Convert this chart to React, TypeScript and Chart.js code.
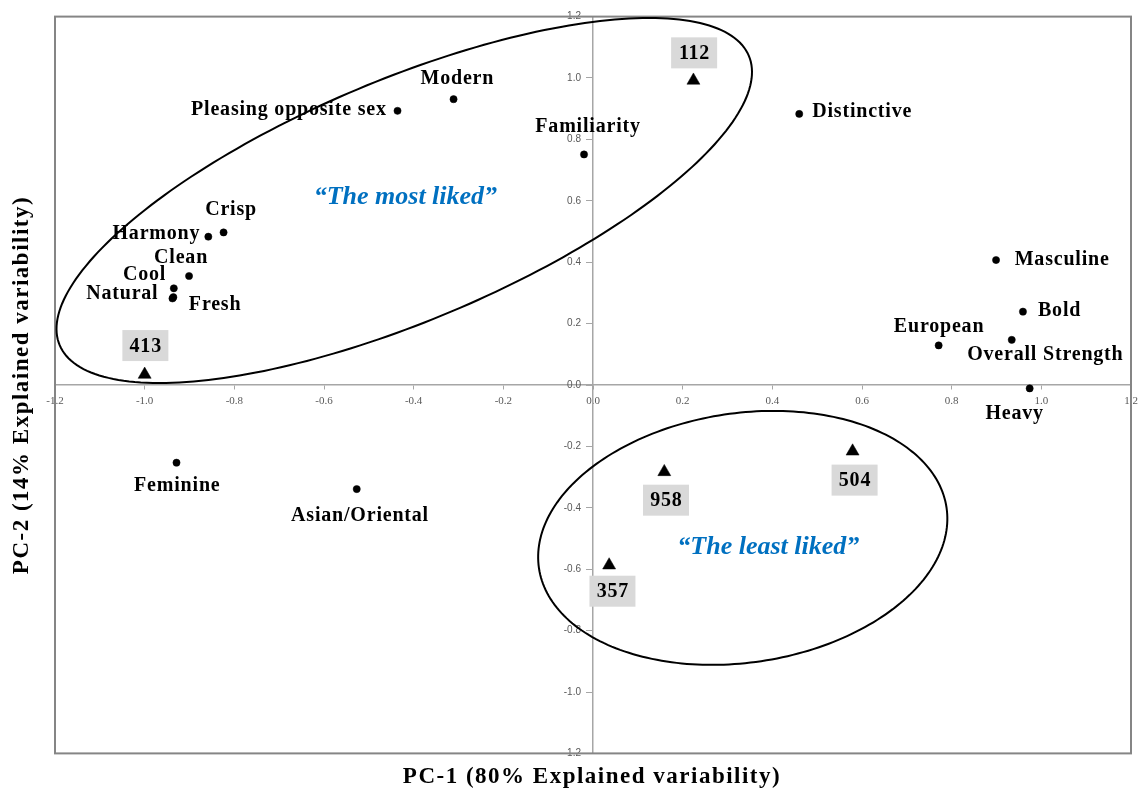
import React, { useEffect, useRef } from "react";
import { Chart, registerables } from "chart.js";

Chart.register(...registerables);

// ---------- data ----------
const attributeNames = [
  "Pleasing opposite sex", "Modern", "Familiarity", "Distinctive", "Crisp", "Harmony",
  "Clean", "Cool", "Natural", "Fresh", "Masculine", "Bold", "European",
  "Overall Strength", "Heavy", "Feminine", "Asian/Oriental",
];
const attributeX = [-0.436, -0.311, -0.020, 0.460, -0.824, -0.858, -0.901, -0.935, -0.938, -0.936, 0.899, 0.959, 0.771, 0.934, 0.974, -0.929, -0.527];
const attributeY = [0.893, 0.931, 0.751, 0.883, 0.497, 0.483, 0.355, 0.315, 0.282, 0.286, 0.407, 0.239, 0.129, 0.147, -0.011, -0.253, -0.339];

const productCodes = ["112", "413", "958", "504", "357"];
const productX = [0.224, -1.0, 0.159, 0.579, 0.036];
const productY = [0.992, 0.034, -0.283, -0.216, -0.587];

const axisTicks = [-1.2, -1.0, -0.8, -0.6, -0.4, -0.2, 0.0, 0.2, 0.4, 0.6, 0.8, 1.0, 1.2];

const xTitle = "PC-1 (80% Explained variability)";
const yTitle = "PC-2 (14% Explained variability)";

// grouping ellipses (centre and conjugate semi-axis vectors, data units)
const groupNames = ["\u201CThe most liked\u201D", "\u201CThe least liked\u201D"];
const groupCenterX = [-0.421, 0.334];
const groupCenterY = [0.601, -0.498];
const groupAX = [0.7686, 0.4545];
const groupAY = [0.4713, 0.0990];
const groupBX = [0.1043, 0.0411];
const groupBY = [-0.3622, -0.4016];
const groupTextX = [-0.4185, 0.391];
const groupTextY = [0.612, -0.527];

// ---------- label placement (pixels) ----------
const attrLabelDx = [-10.8, 3.8, 4, 13, 7.5, -8, -8, -7.6, -14, 15.5, 18.6, 15, 0.4, 33.6, -15, 0.8, 3.3];
const attrLabelDy = [-0.7, -20, -27.6, -2, -23, -2.7, -18, -13.3, -4.3, 7.5, 0, -0.7, -18.6, 15, 25.7, 23, 27];
const attrLabelAlign: CanvasTextAlign[] = [
  "right", "center", "center", "left", "center", "right", "center", "right", "right", "left",
  "left", "left", "center", "center", "center", "center", "center",
];
const prodLabelDx = [0.7, 0.7, 1.7, 2, 3.3];
const prodLabelDy = [-27.6, -29, 28.3, 28.8, 26];

const SERIF = '"Liberation Serif", "Times New Roman", serif';
const SANS = '"Liberation Sans", Arial, sans-serif';

const annotationPlugin = {
  id: "pcaAnnotations",
  beforeDatasetsDraw(chart: any) {
    const { ctx, chartArea } = chart;
    const xs = chart.scales.x;
    const ys = chart.scales.y;
    ctx.save();
    // y tick labels (from the y scale's ticks), right-aligned left of the vertical axis
    ctx.font = `10px ${SANS}`;
    ctx.fillStyle = "#595959";
    ctx.textAlign = "right";
    ctx.textBaseline = "middle";
    const axisX = xs.getPixelForValue(0);
    ys.ticks.forEach((t: any) => {
      ctx.fillText(Number(t.value).toFixed(1), axisX - 12, ys.getPixelForValue(t.value));
    });
    // outer frame
    ctx.strokeStyle = "#858585";
    ctx.lineWidth = 2;
    ctx.strokeRect(chartArea.left, chartArea.top, chartArea.right - chartArea.left, chartArea.bottom - chartArea.top);
    // ellipses
    ctx.strokeStyle = "#000";
    ctx.lineWidth = 2;
    for (let g = 0; g < groupNames.length; g++) {
      ctx.beginPath();
      const n = 240;
      for (let i = 0; i <= n; i++) {
        const t = (i / n) * Math.PI * 2;
        const vx = groupCenterX[g] + groupAX[g] * Math.cos(t) + groupBX[g] * Math.sin(t);
        const vy = groupCenterY[g] + groupAY[g] * Math.cos(t) + groupBY[g] * Math.sin(t);
        const px = xs.getPixelForValue(vx);
        const py = ys.getPixelForValue(vy);
        if (i === 0) ctx.moveTo(px, py);
        else ctx.lineTo(px, py);
      }
      ctx.closePath();
      ctx.stroke();
    }
    ctx.restore();
  },
  afterDatasetsDraw(chart: any) {
    const { ctx } = chart;
    const xs = chart.scales.x;
    const ys = chart.scales.y;
    ctx.save();
    ctx.textBaseline = "middle";
    // attribute labels
    ctx.font = `bold 20px ${SERIF}`;
    ctx.fillStyle = "#000";
    (ctx as any).letterSpacing = "0.8px";
    attributeNames.forEach((name, i) => {
      const px = xs.getPixelForValue(attributeX[i]) + attrLabelDx[i];
      const py = ys.getPixelForValue(attributeY[i]) + attrLabelDy[i];
      ctx.textAlign = attrLabelAlign[i];
      ctx.fillText(name, px, py);
    });
    // product labels in grey boxes
    productCodes.forEach((code, i) => {
      const cx = xs.getPixelForValue(productX[i]) + prodLabelDx[i];
      const cy = ys.getPixelForValue(productY[i]) + prodLabelDy[i];
      ctx.fillStyle = "#d9d9d9";
      ctx.fillRect(cx - 23, cy - 15.5, 46, 31);
      ctx.fillStyle = "#000";
      ctx.textAlign = "center";
      ctx.fillText(code, cx + 0.4, cy + 1);
    });
    (ctx as any).letterSpacing = "0px";
    // group captions
    ctx.font = `italic bold 26px ${SERIF}`;
    ctx.fillStyle = "#0070C0";
    ctx.textAlign = "center";
    groupNames.forEach((name, g) => {
      ctx.fillText(name, xs.getPixelForValue(groupTextX[g]), ys.getPixelForValue(groupTextY[g]));
    });
    // axis titles
    ctx.fillStyle = "#000";
    ctx.font = `bold 23px ${SERIF}`;
    (ctx as any).letterSpacing = "1.5px";
    ctx.textAlign = "center";
    ctx.fillText(xTitle, 592, 777);
    ctx.translate(22, 385);
    ctx.rotate(-Math.PI / 2);
    ctx.fillText(yTitle, 0, 0);
    ctx.restore();
  },
};

function zeroPadding(s: any) {
  s.paddingLeft = 0;
  s.paddingRight = 0;
  s.paddingTop = 0;
  s.paddingBottom = 0;
}

export default function App() {
  const ref = useRef<HTMLCanvasElement>(null);
  useEffect(() => {
    const canvas = ref.current;
    if (!canvas) return;
    const chart = new Chart(canvas, {
      type: "scatter",
      data: {
        datasets: [
          {
            label: "Attributes",
            data: attributeX.map((x, i) => ({ x, y: attributeY[i] })),
            pointStyle: "circle",
            pointRadius: 3.6,
            backgroundColor: "#000",
            borderColor: "#000",
            borderWidth: 0.5,
          },
          {
            label: "Products",
            data: productX.map((x, i) => ({ x, y: productY[i] })),
            pointStyle: "triangle",
            pointRadius: 7.5,
            backgroundColor: "#000",
            borderColor: "#000",
            borderWidth: 0.5,
          },
        ],
      },
      options: {
        responsive: false,
        animation: false,
        devicePixelRatio: 1,
        layout: { padding: { left: 55, right: 9, top: 16.6, bottom: 39.6 } },
        plugins: { legend: { display: false }, tooltip: { enabled: false } },
        scales: {
          x: {
            type: "linear",
            min: -1.2,
            max: 1.2,
            position: { y: 0 } as any,
            afterBuildTicks: (s: any) => {
              s.ticks = axisTicks.map((v) => ({ value: v }));
            },
            afterFit: zeroPadding,
            ticks: {
              autoSkip: false,
              maxRotation: 0,
              padding: 6,
              color: "#595959",
              font: { family: SERIF, size: 11 },
              callback: (v: any) => Number(v).toFixed(1),
            },
            grid: { drawOnChartArea: false, drawTicks: true, tickLength: 4, color: "#a6a6a6", lineWidth: 1 },
            border: { display: true, color: "#a6a6a6", width: 1.5 },
          },
          y: {
            type: "linear",
            min: -1.2,
            max: 1.2,
            position: { x: 0 } as any,
            afterBuildTicks: (s: any) => {
              s.ticks = axisTicks.map((v) => ({ value: v }));
            },
            afterFit: zeroPadding,
            ticks: {
              display: false,
              autoSkip: false,
              callback: (v: any) => Number(v).toFixed(1),
            },
            grid: { drawOnChartArea: false, drawTicks: true, tickLength: 6, color: "#a6a6a6", lineWidth: 1 },
            border: { display: true, color: "#a6a6a6", width: 1.5 },
          },
        },
      },
      plugins: [annotationPlugin],
    });
    return () => chart.destroy();
  }, []);
  return (
    <div style={{ position: "fixed", left: 0, top: 0, width: 1140, height: 793, background: "#fff" }}>
      <canvas ref={ref} width={1140} height={793} style={{ display: "block", width: 1140, height: 793 }} />
    </div>
  );
}
